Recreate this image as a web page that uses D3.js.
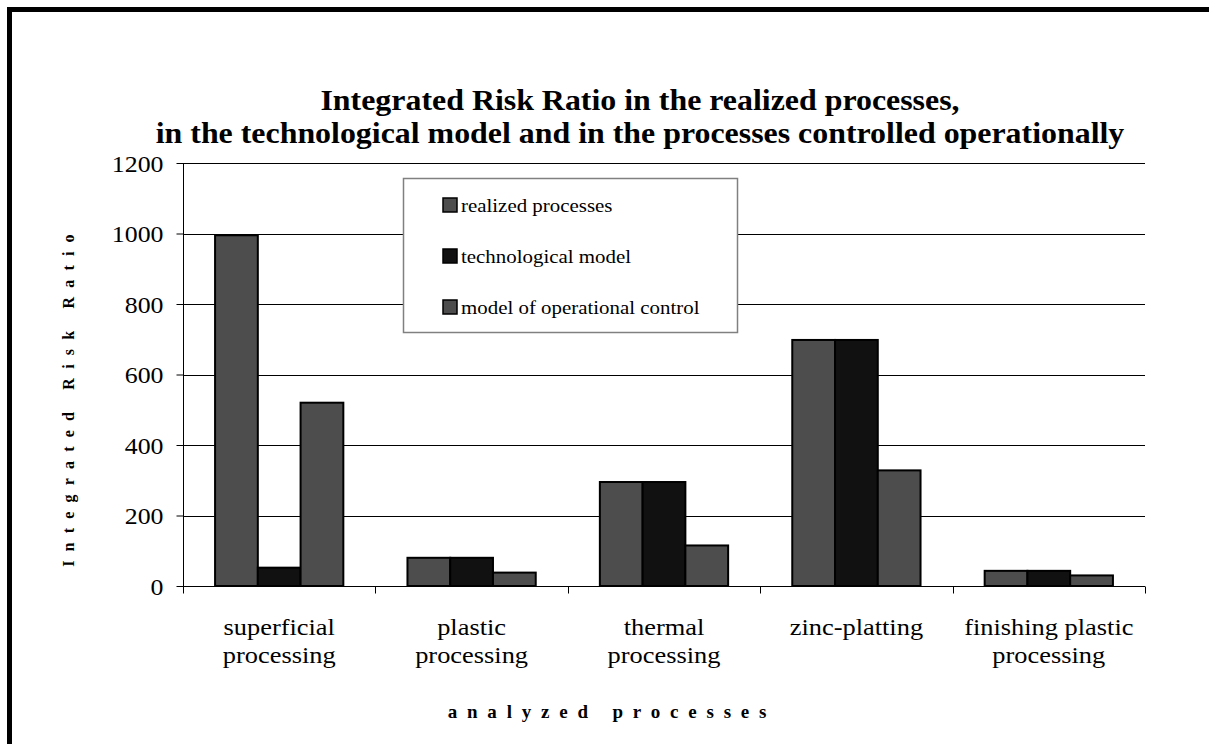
<!DOCTYPE html>
<html>
<head>
<meta charset="utf-8">
<script src="https://cdn.jsdelivr.net/npm/d3@7"></script>
<style>
  html, body { margin: 0; padding: 0; background: #fff; overflow: hidden; }
  svg text { font-family: "Liberation Serif", "Times New Roman", serif; fill: #000; }
</style>
</head>
<body>
<svg id="chart" width="1209" height="744"></svg>
<script>
// categories (two-line labels) and series values
const categories = ["superficial processing", "plastic processing", "thermal processing", "zinc-platting", "finishing plastic processing"];
const categoryLines = [
  ["superficial", "processing"],
  ["plastic", "processing"],
  ["thermal", "processing"],
  ["zinc-platting"],
  ["finishing plastic", "processing"]
];
const seriesNames = ["realized processes", "technological model", "model of operational control"];
const realized    = [995, 80, 295, 698, 43];
const technolog   = [52, 80, 295, 698, 43];
const operational = [520, 38, 115, 328, 30];
const yTicks = [0, 200, 400, 600, 800, 1000, 1200];

const seriesValues = [realized, technolog, operational];
const seriesColors = ["#4d4d4d", "#111111", "#4d4d4d"];
const sx = 1.1; // the original picture is slightly stretched sideways

const svg = d3.select("#chart");

// outer frame (runs off the right and bottom of the window)
svg.append("rect")
  .attr("x", 9.5).attr("y", 9.5)
  .attr("width", 1300).attr("height", 900)
  .attr("fill", "none")
  .attr("stroke", "#000")
  .attr("stroke-width", 5);

const plot = { left: 183, right: 1145, top: 163, bottom: 586 };

const x = d3.scaleBand()
  .domain(categories)
  .range([plot.left, plot.right]);

const y = d3.scaleLinear()
  .domain([0, 1200])
  .range([plot.bottom, plot.top]);

// title
const titleLines = [
  "Integrated Risk Ratio in the realized processes,",
  "in the technological model and in the processes controlled operationally"
];
svg.append("g")
  .selectAll("text")
  .data(titleLines)
  .join("text")
  .attr("transform", (d, i) => `translate(640,${110 + i * 33}) scale(${sx},1)`)
  .attr("text-anchor", "middle")
  .style("font-size", "29px")
  .style("font-weight", "bold")
  .text(d => d);

// gridlines
svg.append("g")
  .selectAll("line")
  .data(yTicks.filter(d => d > 0))
  .join("line")
  .attr("x1", plot.left).attr("x2", plot.right)
  .attr("y1", d => Math.round(y(d)) + 0.5)
  .attr("y2", d => Math.round(y(d)) + 0.5)
  .attr("stroke", "#000")
  .attr("stroke-width", 1);

// bars
const bw = x.bandwidth() / 4.5;
const groups = svg.append("g")
  .selectAll("g")
  .data(categories)
  .join("g");

groups.selectAll("rect")
  .data((c, i) => seriesValues.map((vals, s) => ({ s, v: vals[i], c })))
  .join("rect")
  .attr("x", d => x(d.c) + bw * 0.75 + d.s * bw)
  .attr("y", d => y(d.v))
  .attr("width", bw)
  .attr("height", d => y(0) - y(d.v))
  .attr("fill", d => seriesColors[d.s])
  .attr("stroke", "#000")
  .attr("stroke-width", 2);

// y axis
const yAxis = svg.append("g")
  .attr("transform", `translate(${plot.left + 0.5},0)`)
  .call(d3.axisLeft(y).tickValues(yTicks).tickSize(7).tickFormat(d3.format("d")));
yAxis.attr("font-family", null).attr("font-size", null);
yAxis.select(".domain").attr("stroke", "#000").attr("d", `M0,${plot.top}V${plot.bottom}`);
yAxis.selectAll(".tick line").attr("stroke", "#000");
yAxis.selectAll(".tick text")
  .attr("x", null).attr("dy", null)
  .attr("transform", `translate(-20,8) scale(${sx},1)`)
  .style("font-size", "23.5px");

// x axis
const xAxis = svg.append("g")
  .attr("transform", `translate(0,${plot.bottom + 0.5})`);
xAxis.append("line")
  .attr("x1", plot.left).attr("x2", plot.right)
  .attr("stroke", "#000");
xAxis.selectAll(".tk")
  .data(categories.concat(["end"]))
  .join("line")
  .attr("class", "tk")
  .attr("x1", (d, i) => Math.round(plot.left + i * x.step()) + 0.5)
  .attr("x2", (d, i) => Math.round(plot.left + i * x.step()) + 0.5)
  .attr("y1", 0).attr("y2", 7)
  .attr("stroke", "#000");

const catLabels = svg.append("g")
  .selectAll("g")
  .data(categories)
  .join("g")
  .attr("transform", c => `translate(${x(c) + x.bandwidth() / 2},635) scale(${sx},1)`);
catLabels.each(function (c, i) {
  d3.select(this).selectAll("text")
    .data(categoryLines[i])
    .join("text")
    .attr("text-anchor", "middle")
    .attr("y", (d, j) => j * 28)
    .style("font-size", "24px")
    .text(d => d);
});

// axis titles
svg.append("text")
  .attr("x", 612).attr("y", 718)
  .attr("text-anchor", "middle")
  .style("font-size", "19px")
  .style("font-weight", "bold")
  .style("letter-spacing", "9.8px")
  .text("analyzed processes");

svg.append("text")
  .attr("transform", "translate(74,396) rotate(-90)")
  .attr("text-anchor", "middle")
  .style("font-size", "16px")
  .style("font-weight", "bold")
  .style("letter-spacing", "9.2px")
  .text("Integrated Risk Ratio");

// legend
const legend = svg.append("g").attr("transform", "translate(403,178)");
legend.append("rect")
  .attr("x", 0.5).attr("y", 0.5)
  .attr("width", 334).attr("height", 154)
  .attr("fill", "#fff")
  .attr("stroke", "#808080")
  .attr("stroke-width", 1.5);
const items = legend.selectAll("g.item")
  .data(seriesNames)
  .join("g")
  .attr("class", "item")
  .attr("transform", (d, i) => `translate(0,${27 + i * 51})`);
items.append("rect")
  .attr("x", 40).attr("y", -7)
  .attr("width", 14).attr("height", 14)
  .attr("fill", (d, i) => seriesColors[i])
  .attr("stroke", "#000")
  .attr("stroke-width", 1.5);
items.append("text")
  .attr("transform", `translate(58,7) scale(${sx},1)`)
  .style("font-size", "19px")
  .text(d => d);
</script>
</body>
</html>
